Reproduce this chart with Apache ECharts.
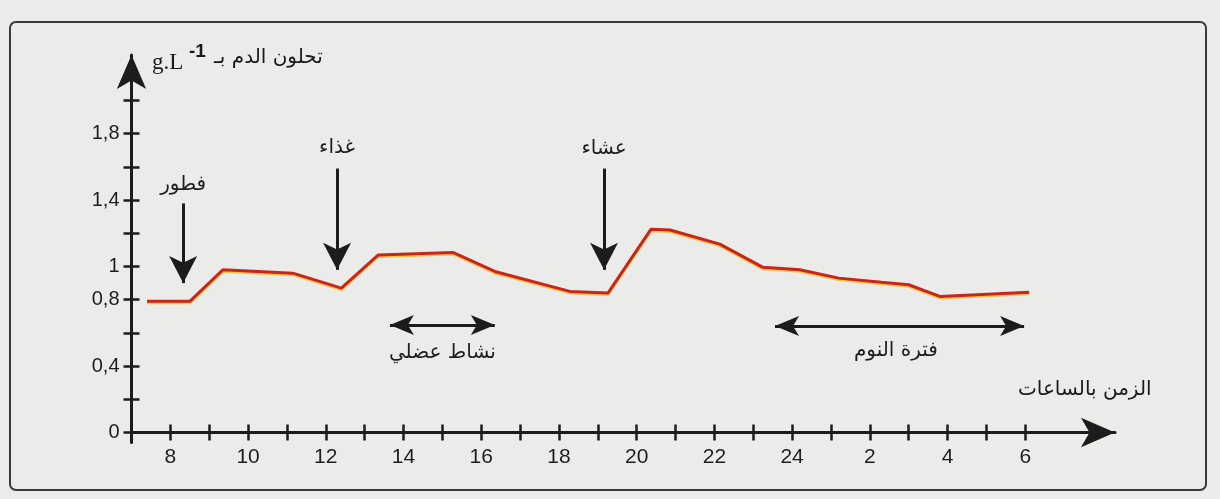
<!DOCTYPE html>
<html>
<head>
<meta charset="utf-8">
<script src="https://cdn.jsdelivr.net/npm/echarts@6.0.0/dist/echarts.min.js"></script>
<style>
  html, body { margin: 0; padding: 0; background: #ebebe9; }
  #chart { width: 1220px; height: 499px; }
</style>
</head>
<body>
<div id="chart"></div>
<script>
// blood glucose curve (hours, 24+ means next day)
const hours = [7.4, 8.5, 9.35, 11.15, 12.4, 13.35, 15.27, 16.35, 18.28, 19.26, 20.37, 20.86, 22.14, 23.25, 24.2, 25.2, 26.3, 27.0, 27.8, 30.1];
const glucose = [0.79, 0.79, 0.98, 0.96, 0.87, 1.07, 1.085, 0.97, 0.85, 0.84, 1.225, 1.22, 1.135, 0.995, 0.98, 0.93, 0.905, 0.89, 0.82, 0.845];

// meals: vertical arrows
const mealNames = ['فطور', 'غذاء', 'عشاء'];
const mealHour = [8.33, 12.29, 19.16];
const mealArrowTop = [1.38, 1.59, 1.59];
const mealArrowEnd = [0.9, 0.98, 0.98];
const mealLabelY = [1.49, 1.715, 1.71];

// periods: double arrows
const spanNames = ['نشاط عضلي', 'فترة النوم'];
const spanStart = [13.65, 23.56];
const spanEnd = [16.35, 29.97];
const spanY = [0.648, 0.642];
const spanLabelX = [15.0, 26.67];
const spanLabelY = [0.48, 0.49];

// tick labels
const yLabelValues = [0, 0.4, 0.8, 1, 1.4, 1.8];
const xLabelHours = [8, 10, 12, 14, 16, 18, 20, 22, 24, 26, 28, 30];

const ink = '#1c1c1c';
const pxPerHour = 38.86;
const pxPerUnit = 166;
const originX = 131.5;
const originY = 432.5;

const chart = echarts.init(document.getElementById('chart'));

const option = {
  backgroundColor: '#ebebe9',
  animation: false,
  grid: [
    { left: originX, right: 105, top: 55, bottom: 499 - originY - 10, outerBoundsMode: 'none' },
    { left: originX, width: 23 * pxPerHour, top: originY - 2 * pxPerUnit, height: 2 * pxPerUnit, outerBoundsMode: 'none' }
  ],
  xAxis: [
    {
      type: 'value', gridIndex: 0, min: 7, max: 7 + (1115 - originX) / pxPerHour,
      axisLine: { show: true, onZero: true, symbol: ['none', 'arrow'], symbolSize: [22, 34], lineStyle: { color: ink, width: 3 } },
      axisTick: { show: false }, axisLabel: { show: false }, splitLine: { show: false }
    },
    {
      type: 'value', gridIndex: 1, min: 7, max: 30, interval: 1, offset: -8,
      axisLine: { show: false },
      axisTick: { show: true, length: 16, lineStyle: { color: ink, width: 2.5 } },
      axisLabel: {
        margin: 22, fontSize: 21, color: '#1e1e1e', fontFamily: 'Liberation Sans',
        formatter: v => xLabelHours.includes(v) ? String(v > 24 ? v - 24 : v) : ''
      },
      splitLine: { show: false }
    }
  ],
  yAxis: [
    {
      type: 'value', gridIndex: 0, min: -10 / pxPerUnit, max: (originY - 55) / pxPerUnit,
      axisLine: { show: true, onZero: false, symbol: ['none', 'arrow'], symbolSize: [22, 34], lineStyle: { color: ink, width: 3 } },
      axisTick: { show: false }, axisLabel: { show: false }, splitLine: { show: false }
    },
    {
      type: 'value', gridIndex: 1, min: 0, max: 2, interval: 0.2, offset: -8,
      axisLine: { show: false },
      axisTick: { show: true, length: 16, lineStyle: { color: ink, width: 2.5 } },
      axisLabel: {
        margin: 20, fontSize: 20, color: '#1e1e1e', fontFamily: 'Liberation Sans',
        formatter: v => {
          const r = Math.round(v * 10) / 10;
          return yLabelValues.includes(r) ? String(r).replace('.', ',') : '';
        }
      },
      splitLine: { show: false }
    }
  ],
  series: [
    {
      type: 'line', xAxisIndex: 0, yAxisIndex: 0,
      data: hours.map((h, i) => [h, glucose[i]]),
      symbol: 'none',
      lineStyle: { color: '#c8261a', width: 3, shadowColor: 'rgba(247,190,60,0.9)', shadowBlur: 0, shadowOffsetY: 1.5 },
      z: 3
    },
    {
      // meal arrows
      type: 'line', xAxisIndex: 0, yAxisIndex: 0, data: [],
      markLine: {
        silent: true, animation: false,
        symbol: ['none', 'arrow'], symbolSize: [21, 27],
        label: { show: false },
        lineStyle: { color: ink, width: 3, type: 'solid' },
        data: mealHour.map((h, i) => [{ coord: [h, mealArrowTop[i]] }, { coord: [h, mealArrowEnd[i]] }])
      },
      markPoint: {
        silent: true, animation: false, symbol: 'circle', symbolSize: 0,
        label: { show: true, position: 'inside', formatter: '{b}', fontSize: 20, color: '#1e1e1e', fontFamily: 'DejaVu Sans' },
        data: mealNames.map((n, i) => ({ name: n, coord: [mealHour[i], mealLabelY[i]] }))
      }
    },
    {
      // period double arrows
      type: 'line', xAxisIndex: 0, yAxisIndex: 0, data: [],
      markLine: {
        silent: true, animation: false,
        symbol: ['arrow', 'arrow'], symbolSize: [15, 24],
        label: { show: false },
        lineStyle: { color: ink, width: 3, type: 'solid' },
        data: spanStart.map((s, i) => [{ coord: [s, spanY[i]] }, { coord: [spanEnd[i], spanY[i]] }])
      },
      markPoint: {
        silent: true, animation: false, symbol: 'circle', symbolSize: 0,
        label: { show: true, position: 'inside', formatter: '{b}', fontSize: 20, color: '#1e1e1e', fontFamily: 'DejaVu Sans' },
        data: spanNames.map((n, i) => ({ name: n, coord: [spanLabelX[i], spanLabelY[i]] }))
      }
    }
  ],
  graphic: [
    {
      type: 'rect', silent: true, z: -10,
      shape: { x: 10, y: 22, width: 1196, height: 468, r: 6 },
      style: { fill: 'none', stroke: '#3a3a3a', lineWidth: 2 }
    },
    {
      type: 'text', silent: true, left: 152, top: 51,
      style: { text: 'g.L', fontSize: 23, fontFamily: 'Liberation Serif', fill: '#1a1a1a' }
    },
    {
      type: 'text', silent: true, left: 189, top: 42,
      style: { text: '-1', fontSize: 19, fontWeight: 'bold', fontFamily: 'Liberation Sans', fill: '#1a1a1a' }
    },
    {
      type: 'text', silent: true, left: 214, top: 48,
      style: { text: 'تحلون الدم بـ', fontSize: 20, fontFamily: 'DejaVu Sans', fill: '#1a1a1a' }
    },
    {
      type: 'text', silent: true, left: 1018, top: 380,
      style: { text: 'الزمن بالساعات', fontSize: 20, fontFamily: 'DejaVu Sans', fill: '#1a1a1a' }
    }
  ]
};

chart.setOption(option);
</script>
</body>
</html>
